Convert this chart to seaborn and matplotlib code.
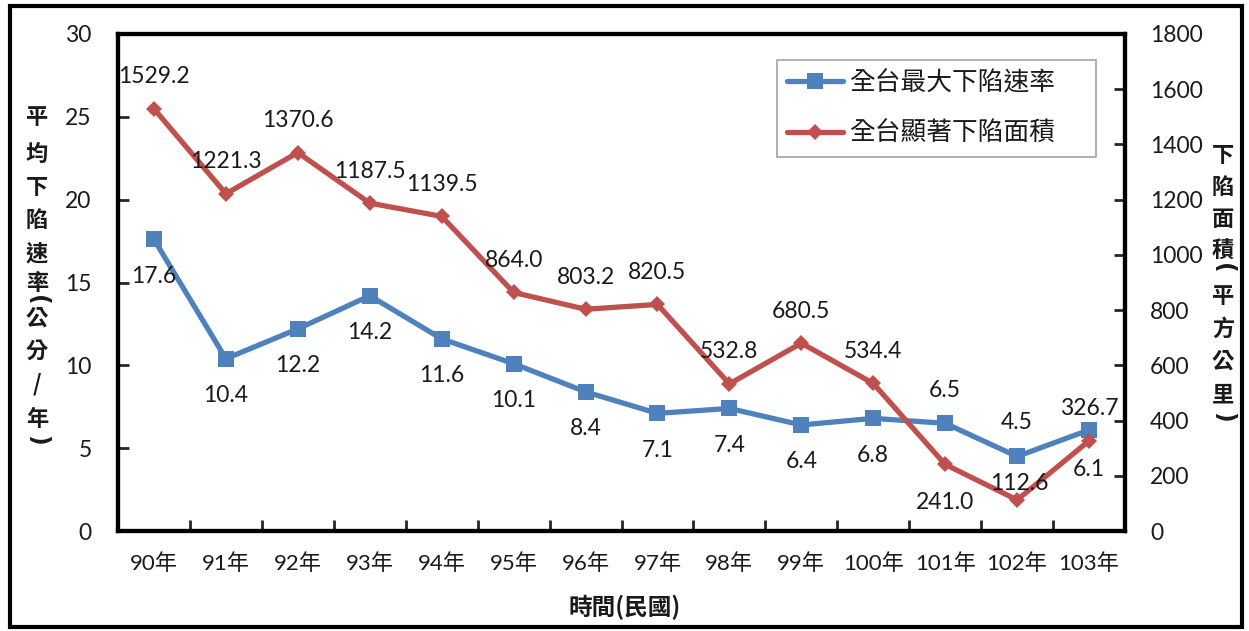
import numpy as np
import pandas as pd
import matplotlib
matplotlib.use("Agg")
import matplotlib.pyplot as plt
from matplotlib.patches import Rectangle
from matplotlib.lines import Line2D
import seaborn as sns

# ---- data ----
years = ["90年", "91年", "92年", "93年", "94年", "95年", "96年",
         "97年", "98年", "99年", "100年", "101年", "102年", "103年"]
rate = [17.6, 10.4, 12.2, 14.2, 11.6, 10.1, 8.4, 7.1, 7.4, 6.4, 6.8, 6.5, 4.5, 6.1]
area = [1529.2, 1221.3, 1370.6, 1187.5, 1139.5, 864.0, 803.2, 820.5,
        532.8, 680.5, 534.4, 241.0, 112.6, 326.7]
rate_label = ["17.6", "10.4", "12.2", "14.2", "11.6", "10.1", "8.4", "7.1",
              "7.4", "6.4", "6.8", "6.5", "4.5", "6.1"]
area_label = ["1529.2", "1221.3", "1370.6", "1187.5", "1139.5", "864.0", "803.2",
              "820.5", "532.8", "680.5", "534.4", "241.0", "112.6", "326.7"]
series_names = ["全台最大下陷速率", "全台顯著下陷面積"]
left_ticks = [0, 5, 10, 15, 20, 25, 30]
right_ticks = [0, 200, 400, 600, 800, 1000, 1200, 1400, 1600, 1800]
left_title = list("平均下陷速率(公分/年)")
right_title = list("下陷面積(平方公里)")

# ---- layout / style ----
rate_dy = [-37] * 14
rate_dy[11] = 33
rate_dy[12] = 34
rate_dy[13] = -40
area_dy = [32] * 14
area_dy[11] = -38
area_dy[12] = 16
left_title_y = [118, 154, 187, 220, 254, 284, 300, 318, 351, 384, 419, 440]
right_title_y = [155, 187, 219, 251, 268, 297, 329, 361, 395, 417]

BLUE = "#4F81BD"
RED = "#C0504D"
TXT = "#1a1a1a"
W, H = 1249, 631

sns.set_theme(style="white")
plt.rcParams["font.family"] = ["Lato", "Noto Sans CJK TC", "DejaVu Sans"]

fig = plt.figure(figsize=(W / 100, H / 100), dpi=100)
ax = fig.add_axes([118 / W, 1 - 531 / H, (1125 - 118) / W, (531 - 34) / H])
ax2 = ax.twinx()

df = pd.DataFrame({"year": years, "rate": rate, "area": area})

sns.lineplot(data=df, x="year", y="rate", ax=ax, sort=False, color=BLUE,
             linewidth=3.8, marker="s", markersize=11, markeredgewidth=0)
sns.lineplot(data=df, x="year", y="area", ax=ax2, sort=False, color=RED,
             linewidth=3.8, marker="D", markersize=8.5, markeredgewidth=0)

ax.set_xlim(-0.5, len(years) - 0.5)
ax.set_ylim(0, 30)
ax2.set_ylim(0, 1800)
ax.set_yticks(left_ticks)
ax2.set_yticks(right_ticks)
ax.set_xlabel("")
ax.set_ylabel("")
ax2.set_ylabel("")

for a in (ax, ax2):
    for s in a.spines.values():
        s.set_linewidth(3.0)
        s.set_color("black")
    a.grid(False)

ax.tick_params(axis="y", direction="in", length=8, width=2, pad=19,
               labelsize=16.5, labelcolor=TXT, left=True, right=False)
ax2.tick_params(axis="y", direction="in", length=8, width=2, pad=18,
                labelsize=16.5, labelcolor=TXT, right=True, left=False)
ax.set_xticks(range(len(years)))
ax.set_xticklabels(years)
ax.tick_params(axis="x", which="major", length=0, pad=16, labelsize=16,
               labelcolor=TXT)
ax.set_xticks(np.arange(-0.5, len(years), 1.0), minor=True)
ax.tick_params(axis="x", which="minor", direction="in", length=8, width=2,
               bottom=True)

# data labels
for i in range(len(years)):
    ax.annotate(rate_label[i], (i, rate[i]), xytext=(0, rate_dy[i]),
                textcoords="offset pixels", ha="center", va="center",
                fontsize=16.5, color=TXT)
    ax2.annotate(area_label[i], (i, area[i]), xytext=(2 if i == 12 else 0, area_dy[i]),
                 textcoords="offset pixels", ha="center", va="center",
                 fontsize=16.5, color=TXT)

# legend
handles = [Line2D([], [], color=BLUE, lw=3.8, marker="s", markersize=11, mew=0),
           Line2D([], [], color=RED, lw=3.8, marker="D", markersize=8.5, mew=0)]
leg = ax2.legend(handles, series_names, loc="center",
                 bbox_to_anchor=(777 / W, 1 - 156 / H, (1096 - 777) / W, (156 - 61) / H),
                 bbox_transform=fig.transFigure, mode="expand",
                 frameon=True, fancybox=False, handlelength=2.15,
                 handletextpad=0.25, borderpad=0.4, labelspacing=0.95,
                 borderaxespad=0.0,
                 prop={"family": ["Noto Sans CJK TC"], "size": 18.5})
leg.get_frame().set_edgecolor("#8c8c8c")
leg.get_frame().set_linewidth(1.2)
for t in leg.get_texts():
    t.set_color(TXT)

# axis titles (stacked vertical characters, brackets turned to vertical form)
def stacked(chars, ys, x):
    for ch, y in zip(chars, ys):
        if ch in "()":
            fig.text(x / W, 1 - y / H, ch, ha="center", va="center", rotation=-90,
                     fontsize=17, fontweight="bold", family=["DejaVu Sans"], color=TXT)
        else:
            fig.text(x / W, 1 - y / H, ch, ha="center", va="center",
                     fontsize=16, fontweight="bold", family=["Noto Sans CJK TC"],
                     color=TXT)

stacked(left_title, left_title_y, 37)
stacked(right_title, right_title_y, 1223)
fig.text(625 / W, 1 - 607 / H, "時間(民國)", ha="center", va="center",
         fontsize=17, fontweight="bold", family=["Noto Sans CJK TC"], color=TXT)

# outer frame
fig.patches.append(Rectangle((10 / W, 4 / H), (1242 - 10) / W, (625 - 4) / H,
                             transform=fig.transFigure, fill=False,
                             edgecolor="black", linewidth=3))

fig.savefig("out.png", dpi=100)
